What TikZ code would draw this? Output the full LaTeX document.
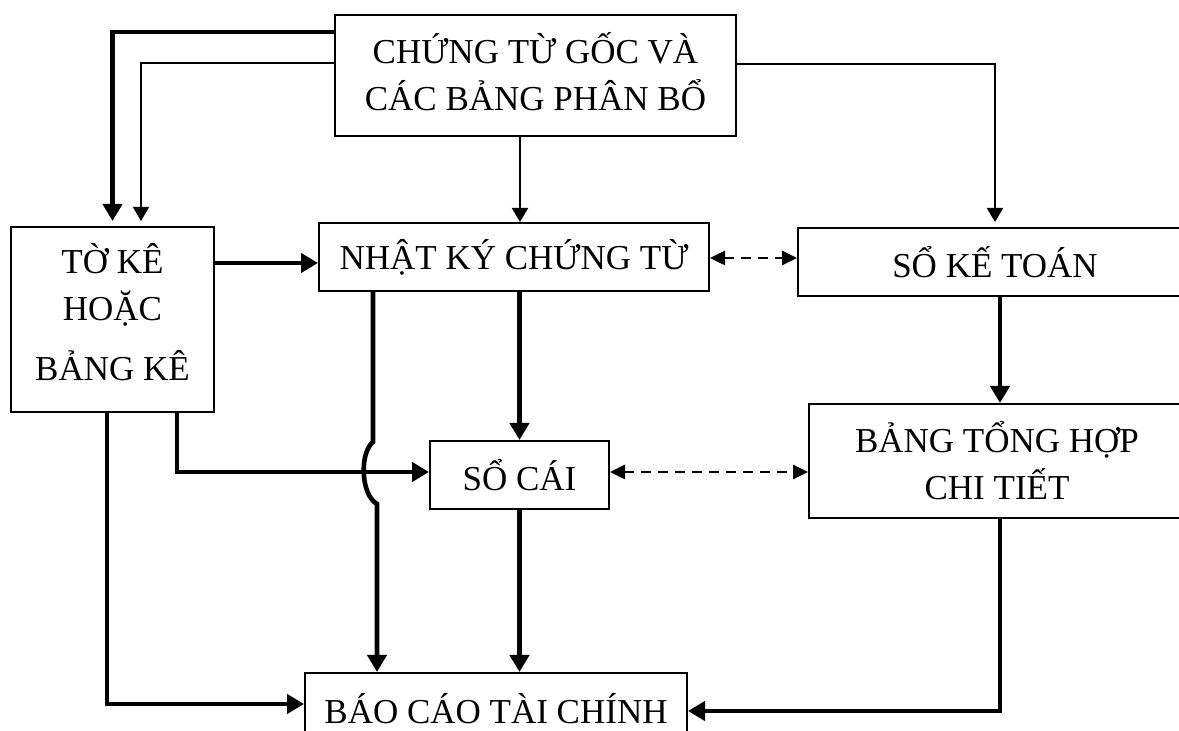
\documentclass[tikz,border=0pt]{standalone}
\usepackage{fontspec}
\setmainfont{Liberation Serif}
\usetikzlibrary{arrows.meta,calc}
\begin{document}
\begin{tikzpicture}[x=0.5pt,y=-0.5pt,
  box/.style={draw, line width=1pt, inner sep=0pt, align=center,
    font=\fontsize{17.5}{23.5}\selectfont},
  heavy/.style={line width=2.3pt, -{Triangle[length=8.5pt,width=9.5pt]}},
  light/.style={line width=1pt, -{Triangle[length=7pt,width=8pt]}},
  hairline/.style={line width=0.7pt, -{Triangle[length=7pt,width=8pt]}},
  dashlink/.style={line width=1.3pt, dash pattern=on 5pt off 3.5pt,
    {Triangle[length=7.5pt,width=7pt]}-{Triangle[length=7.5pt,width=7pt]}}]
\useasboundingbox (0,0) rectangle (1179,731);
\clip (0,0) rectangle (1179,731);

% boxes
\node[box, minimum width=200.5pt, minimum height=60.5pt] (top) at (535.5,75.5)
  {CHỨNG TỪ GỐC VÀ\\CÁC BẢNG PHÂN BỔ\rule[-4pt]{0pt}{4pt}};
\node[box, minimum width=101.5pt, minimum height=92.5pt] (ke) at (112.5,319.5)
  {TỜ KÊ\\HOẶC\\[6.5pt]BẢNG KÊ\rule[-8pt]{0pt}{8pt}};
\node[box, minimum width=195pt, minimum height=34pt] (nk) at (514,257)
  {NHẬT KÝ CHỨNG TỪ};
\node[box, minimum width=197pt, minimum height=34pt] (skt) at (995,262)
  {SỔ KẾ TOÁN};
\node[box, minimum width=89.5pt, minimum height=34pt] (sc) at (519.5,475)
  {SỔ CÁI};
\node[box, minimum width=188pt, minimum height=57pt] (btt) at (997,461)
  {BẢNG TỔNG HỢP\\CHI TIẾT};
\node[box, minimum width=191pt, minimum height=36pt] (bct) at (496,709)
  {BÁO CÁO TÀI CHÍNH};

% bends and crossing
\coordinate (hopTop) at (373,442);
\coordinate (hopBot) at (377,504);

% connectors from the source documents
\draw[heavy, shorten >=2.5pt] (top.west |- 0,32) -| (ke.north);
\draw[hairline, shorten >=2.5pt] (top.west |- 0,63) -| ($(ke.north)+(28.5,0)$);
\draw[light] (top.south -| 520,0) -- (nk.north -| 520,0);
\draw[light, shorten >=2.5pt] (top.east |- 0,64) -| (skt.north);

% main flow
\draw[heavy] (ke.east |- 0,263) -- (nk.west |- 0,263);
\draw[dashlink] (nk.east |- 0,258) -- (skt.west |- 0,258);
\draw[heavy] (skt.south -| 1000,0) -- (btt.north -| 1000,0);
\draw[heavy] (ke.south -| 177,0) |- (sc.west |- 0,472);
\draw[heavy] (nk.south -| 519.5,0) -- (sc.north);
\draw[heavy] (nk.south -| 373,0) -- (hopTop)
  .. controls (360,452) and (360,494) .. (hopBot) -- (bct.north -| 377,0);
\draw[dashlink] (sc.east |- 0,472) -- (btt.west |- 0,472);
\draw[heavy] (sc.south) -- (bct.north -| sc.south);
\draw[heavy] (ke.south -| 107,0) |- (bct.west |- 0,704);
\draw[heavy] (btt.south -| 1000,0) |- (bct.east |- 0,711);
\end{tikzpicture}
\end{document}
